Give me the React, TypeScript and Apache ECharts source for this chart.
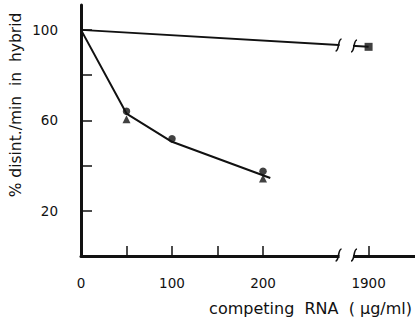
import React, { useEffect, useRef } from "react";
import * as echarts from "echarts";

// Data (x in µg/ml, y in % disint./min in hybrid)
const controlX = [0, 1900];
const controlY = [100, 92.5];
const curveX = [0, 50, 100, 208];
const curveY = [100, 63, 50.5, 34.5];
const circleX = [50, 100, 200];
const circleY = [64, 51.8, 37.5];
const triangleX = [50, 200];
const triangleY = [60.5, 34.3];
const yTickValues = [20, 40, 60, 80, 100];
const yLabelValues = [20, 60, 100];
const xTickValues = [50, 100, 150, 200, 1900];
const xLabelValues = [0, 100, 200, 1900];

// Broken x axis: values beyond the break are placed on a compressed segment
const BREAK_FROM = 250;
const BREAK_POS = 316; // axis position of 1900
const mapX = (v: number) => (v > BREAK_FROM ? BREAK_POS + (v - 1900) * 0.05 : v);
const unmapLabel = (p: number) => (p > BREAK_FROM ? "1900" : String(Math.round(p)));

const pairs = (xs: number[], ys: number[]) => xs.map((x, i) => [mapX(x), ys[i]]);

export default function App() {
  const ref = useRef<HTMLDivElement>(null);
  useEffect(() => {
    if (!ref.current) return;
    const chart = echarts.init(ref.current, null, { renderer: "svg" });
    const ink = "#111";
    const font = "DejaVu Sans";
    chart.setOption({
      animation: false,
      backgroundColor: "#fff",
      grid: { left: 81, right: 0, top: 5, bottom: 66, containLabel: false, outerBoundsMode: "none" },
      xAxis: {
        type: "value",
        min: 0,
        max: 367,
        splitLine: { show: false },
        axisLine: { lineStyle: { color: ink, width: 3 } },
        axisTick: { inside: true, length: 10, lineStyle: { color: ink, width: 1.5 }, customValues: xTickValues.map(mapX) },
        axisLabel: {
          customValues: xLabelValues.map(mapX),
          formatter: (v: number) => unmapLabel(v),
          color: ink,
          fontFamily: font,
          fontSize: 13.5,
          margin: 20,
        },
      },
      yAxis: {
        type: "value",
        min: 0,
        max: 111,
        splitLine: { show: false },
        axisLine: { lineStyle: { color: ink, width: 3 } },
        axisTick: { inside: true, length: 11, lineStyle: { color: ink, width: 1.5 }, customValues: yTickValues },
        axisLabel: { customValues: yLabelValues, color: ink, fontFamily: font, fontSize: 13.5, margin: 23 },
      },
      series: [
        {
          type: "line",
          data: pairs(controlX, controlY),
          symbol: "none",
          lineStyle: { color: ink, width: 2 },
        },
        {
          type: "scatter",
          data: [pairs(controlX, controlY)[1]],
          symbol: "rect",
          symbolSize: 8,
          itemStyle: { color: ink },
          z: 5,
        },
        {
          type: "line",
          data: pairs(curveX, curveY),
          symbol: "none",
          lineStyle: { color: ink, width: 2 },
        },
        {
          type: "scatter",
          data: pairs(circleX, circleY),
          symbol: "circle",
          symbolSize: 7.5,
          itemStyle: { color: ink },
        },
        {
          type: "scatter",
          data: pairs(triangleX, triangleY),
          symbol: "triangle",
          symbolSize: 8,
          itemStyle: { color: ink },
        },
      ],
    });

    // break decorations, positioned through the chart's own coordinate conversion
    const px = (x: number, y: number) => chart.convertToPixel({ gridIndex: 0 }, [x, y]) as number[];
    const a = px(mapX(controlX[0]), controlY[0]);
    const b = px(mapX(controlX[1]), controlY[1]);
    const lineYAt = (xp: number) => a[1] + ((b[1] - a[1]) * (xp - a[0])) / (b[0] - a[0]);
    const leftX = px(283, 0)[0];
    const rightX = px(300, 0)[0];
    const axisY = px(0, 0)[1];
    const mark = (cx: number, cy: number) => ({
      type: "bezierCurve",
      shape: { x1: cx - 3, y1: cy + 6, x2: cx + 3, y2: cy - 6, cpx1: cx + 1, cpy1: cy + 6, cpx2: cx - 1, cpy2: cy - 6 },
      style: { stroke: ink, lineWidth: 1.6, fill: null },
      z: 101,
    });
    const cover = (cy: number) => ({
      type: "rect",
      shape: { x: leftX + 1, y: cy - 5, width: rightX - leftX - 2, height: 10 },
      style: { fill: "#fff" },
      z: 100,
    });
    chart.setOption({
      graphic: [
        cover(lineYAt((leftX + rightX) / 2)),
        cover(axisY),
        mark(leftX, lineYAt(leftX)),
        mark(rightX, lineYAt(rightX)),
        mark(leftX, axisY - 1),
        mark(rightX, axisY - 1),
        {
          type: "text",
          x: 16,
          y: 105,
          rotation: Math.PI / 2,
          style: {
            text: "% disint./min  in  hybrid",
            fill: ink,
            font: `15.5px ${font}`,
            align: "center",
            verticalAlign: "middle",
          },
          z: 102,
        },
        {
          type: "text",
          x: 412,
          y: 308,
          style: {
            text: "competing  RNA  ( µg/ml)",
            fill: ink,
            font: `16px ${font}`,
            align: "right",
            verticalAlign: "middle",
          },
          z: 102,
        },
      ],
    });
    return () => chart.dispose();
  }, []);
  return <div ref={ref} style={{ position: "fixed", left: 0, top: 0, width: 415, height: 322 }} />;
}
